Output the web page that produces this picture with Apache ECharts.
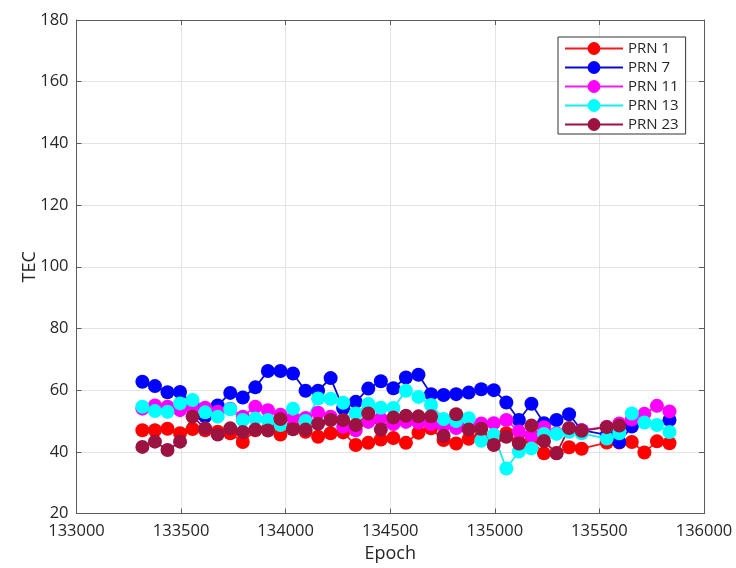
<!DOCTYPE html>
<html>
<head>
<meta charset="utf-8">
<script src="https://cdn.jsdelivr.net/npm/echarts@6/dist/echarts.min.js"></script>
<style>
  html, body { margin: 0; padding: 0; background: #fff; }
  #chart { width: 736px; height: 568px; }
</style>
</head>
<body>
<div id="chart"></div>
<script>
// Epochs where TEC was sampled (no sample at 135475)
const epochs = [
  133315, 133375, 133435, 133495, 133555, 133615, 133675, 133735, 133795, 133855,
  133915, 133975, 134035, 134095, 134155, 134215, 134275, 134335, 134395, 134455,
  134515, 134575, 134635, 134695, 134755, 134815, 134875, 134935, 134995, 135055,
  135115, 135175, 135235, 135295, 135355, 135415, 135535, 135595, 135655, 135715,
  135775, 135835
];

// TEC per satellite (null = not tracked at that epoch)
const prn1 = [
  47.0, 47.0, 47.5, 46.0, 47.4, 47.0, 46.5, 46.0, 43.2, 47.0,
  47.5, 45.6, 48.0, 46.5, 44.9, 46.0, 46.3, 42.2, 42.9, 44.0,
  44.5, 42.9, 46.2, 47.6, 43.8, 42.7, 44.2, 45.0, 44.0, 46.0,
  43.0, 43.5, 39.5, 39.6, 41.5, 41.0, 43.0, 43.0, 43.2, 39.8,
  43.4, 42.8
];
const prn7 = [
  62.7, 61.3, 59.3, 59.4, 55.5, 51.5, 55.0, 59.1, 57.6, 60.9,
  66.2, 66.2, 65.4, 59.8, 59.8, 63.9, 54.1, 56.2, 60.5, 62.9,
  60.6, 64.1, 65.0, 58.7, 58.4, 58.7, 59.2, 60.3, 60.0, 56.0,
  50.3, 55.6, 49.3, 50.3, 52.2, 47.0, 45.5, 43.2, 48.2, null,
  null, 50.3
];
const prn11 = [
  54.0, 55.0, 54.6, 53.5, 54.0, 54.3, 53.0, 54.0, 51.4, 54.6,
  53.5, 52.0, 51.0, 51.0, 52.7, 51.4, 48.1, 47.0, 49.7, 50.7,
  49.0, 49.7, 49.5, 49.0, 48.5, 47.7, 48.5, 49.2, 49.3, 50.3,
  46.6, 45.2, 48.0, 46.0, 47.5, 47.0, 48.1, 49.2, 50.5, 52.3,
  54.9, 53.1
];
const prn13 = [
  54.6, 53.2, 53.0, 55.7, 56.8, 52.8, 51.4, 53.8, 50.3, 50.8,
  50.3, 48.7, 54.0, 50.0, 57.3, 57.2, 55.9, 52.4, 55.5, 54.3,
  54.2, 59.8, 57.8, 55.2, 50.6, 50.0, 50.9, 43.6, 45.5, 34.6,
  40.1, 41.1, 45.8, 45.8, 46.5, 46.0, 44.3, 46.0, 52.4, 49.5,
  48.7, 46.4
];
const prn23 = [
  41.6, 43.3, 40.6, 43.3, 51.4, 47.6, 45.6, 47.6, 46.4, 47.2,
  46.9, 50.6, 47.3, 47.2, 49.1, 50.3, 50.3, 48.7, 52.4, 47.2,
  51.1, 51.7, 51.5, 51.5, 45.2, 52.2, 47.2, 47.5, 42.2, 44.9,
  42.7, 48.5, 43.5, 39.5, 47.7, 46.8, 48.0, 48.5, null, null,
  null, null
];

const seriesDefs = [
  { name: 'PRN 1',  data: prn1,  marker: '#ff0000', line: '#f01c1c' },
  { name: 'PRN 7',  data: prn7,  marker: '#0000ff', line: '#0a0ad0' },
  { name: 'PRN 11', data: prn11, marker: '#ff00ff', line: '#f21cf2' },
  { name: 'PRN 13', data: prn13, marker: '#00ffff', line: '#10eeee' },
  { name: 'PRN 23', data: prn23, marker: '#9c1240', line: '#9c1240' }
];

const FONT = '"Open Sans", "DejaVu Sans", sans-serif';
const TEXT = '#262626';
const AXIS = '#5c5c5c';

const chart = echarts.init(document.getElementById('chart'), null, { renderer: 'canvas' });

const boxAxisX = (pos, main) => ({
  type: 'value',
  position: pos,
  min: 133000, max: 136000, interval: 500,
  name: main ? 'Epoch' : '',
  nameLocation: 'middle',
  nameGap: 31,
  nameMoveOverlap: false,
  nameTextStyle: { fontFamily: FONT, fontSize: 18, color: TEXT },
  axisLine: { show: true, onZero: false, lineStyle: { color: AXIS, width: 1 } },
  axisTick: { show: true, inside: true, length: 5, lineStyle: { color: AXIS } },
  axisLabel: {
    show: main, margin: 9, fontFamily: FONT, fontSize: 16.5, color: TEXT,
    formatter: v => String(v)
  },
  splitLine: { show: main, lineStyle: { color: '#e3e3e3', width: 1 } }
});

const boxAxisY = (pos, main) => ({
  type: 'value',
  position: pos,
  min: 20, max: 180, interval: 20,
  name: main ? 'TEC' : '',
  nameLocation: 'middle',
  nameGap: 38,
  nameMoveOverlap: false,
  nameRotate: 90,
  nameTextStyle: { fontFamily: FONT, fontSize: 18, color: TEXT },
  axisLine: { show: true, onZero: false, lineStyle: { color: AXIS, width: 1 } },
  axisTick: { show: true, inside: true, length: 5, lineStyle: { color: AXIS } },
  axisLabel: {
    show: main, margin: 8, fontFamily: FONT, fontSize: 16.5, color: TEXT,
    formatter: v => String(v)
  },
  splitLine: { show: main, lineStyle: { color: '#e3e3e3', width: 1 } }
});

chart.setOption({
  animation: false,
  backgroundColor: '#ffffff',
  grid: { left: 76.5, right: 32, top: 20, bottom: 54.5, containLabel: false },
  xAxis: [boxAxisX('bottom', true), boxAxisX('top', false)],
  yAxis: [boxAxisY('left', true), boxAxisY('right', false)],
  legend: {
    orient: 'vertical',
    left: 558, top: 37,
    padding: [4, 7, 2, 6],
    itemWidth: 58, itemHeight: 16, itemGap: 4,
    borderColor: '#333', borderWidth: 1, backgroundColor: '#fff',
    textStyle: { fontFamily: FONT, fontSize: 15, color: TEXT },
    data: seriesDefs.map(s => s.name)
  },
  series: seriesDefs.map(s => ({
    name: s.name,
    type: 'line',
    xAxisIndex: 0, yAxisIndex: 0,
    data: epochs.map((e, i) => [e, s.data[i]]),
    connectNulls: true,
    symbol: 'circle',
    symbolSize: 14,
    showAllSymbol: true,
    lineStyle: { color: s.line, width: 1.8 },
    itemStyle: { color: s.marker, borderWidth: 0 },
    emphasis: { disabled: true }
  }))
});
</script>
</body>
</html>
